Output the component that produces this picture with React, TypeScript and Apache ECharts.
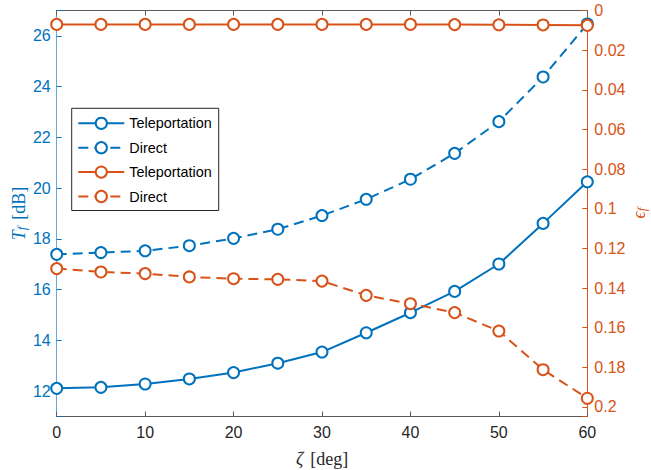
import React, { useEffect, useRef } from "react";
import * as echarts from "echarts";

// ---- data ----
const zeta = [0, 5, 10, 15, 20, 25, 30, 35, 40, 45, 50, 55, 60];
const teleportTf = [12.11, 12.15, 12.28, 12.48, 12.73, 13.1, 13.54, 14.3, 15.09, 15.93, 17.01, 18.61, 20.25];
const directTf = [17.39, 17.46, 17.53, 17.73, 18.02, 18.38, 18.92, 19.56, 20.35, 21.37, 22.62, 24.38, 26.47];
const teleportEps = [0.007, 0.007, 0.007, 0.007, 0.007, 0.007, 0.007, 0.007, 0.007, 0.0071, 0.0072, 0.0073, 0.0075];
const directEps = [0.1302, 0.1319, 0.1327, 0.1344, 0.1353, 0.1356, 0.1365, 0.1437, 0.1479, 0.1524, 0.1617, 0.1812, 0.1956];
const legendNames = ["Teleportation", "Direct", "Teleportation", "Direct"];

const BLUE = "#0072BD";
const ORANGE = "#D95319";
const AXIS_GRAY = "#5a5a5a";
const SANS = "'Liberation Sans', Arial, Helvetica, sans-serif";
const SERIF = "'Liberation Serif', 'Times New Roman', serif";

const pairs = (ys: number[]) => zeta.map((x, i) => [x, ys[i]]);

export default function App() {
  const ref = useRef<HTMLDivElement>(null);
  useEffect(() => {
    if (!ref.current) return;
    const chart = echarts.init(ref.current, undefined, { renderer: "svg" });
    const mkSeries = (key: string, name: string, data: number[], color: string, dashed: boolean, yAxisIndex: number) => ({
      type: "line",
      name: key + " " + name,
      data: pairs(data),
      xAxisIndex: 0,
      yAxisIndex,
      symbol: "emptyCircle",
      symbolSize: 11,
      showAllSymbol: true,
      color,
      lineStyle: { color, width: 2, type: dashed ? [10, 6] : "solid" },
      itemStyle: { color, borderColor: color, borderWidth: 1.8 },
      emphasis: { disabled: true },
      z: 3,
    });
    const option: any = {
      animation: false,
      backgroundColor: "#ffffff",
      grid: { left: 56.7, top: 10.5, width: 530.6, height: 406, containLabel: false },
      legend: {
        left: 71.7,
        top: 108.3,
        orient: "vertical",
        selectedMode: false,
        backgroundColor: "#ffffff",
        borderColor: "#262626",
        borderWidth: 1,
        padding: [8, 7, 7, 5.6],
        itemWidth: 46,
        itemHeight: 14,
        itemGap: 10.4,
        textStyle: { fontFamily: SANS, fontSize: 14.4, color: "#000" },
        formatter: (n: string) => n.replace(/^\w+ /, ""),
        data: ["T " + legendNames[0], "T " + legendNames[1], "E " + legendNames[2], "E " + legendNames[3]],
      },
      xAxis: [
        {
          type: "value",
          position: "bottom",
          min: 0,
          max: 60,
          interval: 10,
          axisLine: { onZero: false, lineStyle: { color: AXIS_GRAY, width: 1 } },
          axisTick: { inside: true, length: 5, lineStyle: { color: AXIS_GRAY } },
          axisLabel: { margin: 8, fontFamily: SANS, fontSize: 16, color: "#262626" },
          splitLine: { show: false },
        },
        {
          type: "value",
          position: "top",
          min: 0,
          max: 60,
          interval: 10,
          axisLine: { onZero: false, lineStyle: { color: AXIS_GRAY, width: 1 } },
          axisTick: { inside: true, length: 5, lineStyle: { color: AXIS_GRAY } },
          axisLabel: { show: false },
          splitLine: { show: false },
        },
      ],
      yAxis: [
        {
          type: "value",
          position: "left",
          min: 11,
          max: 27,
          minInterval: 2,
          maxInterval: 2,
          axisLine: { show: true, onZero: false, lineStyle: { color: BLUE, width: 1, opacity: 0.6 } },
          axisTick: { show: true, inside: true, length: 5, lineStyle: { color: BLUE } },
          axisLabel: {
            margin: 6,
            fontFamily: SANS,
            fontSize: 16,
            color: BLUE,
            formatter: (v: number) => (Math.abs(v % 2) < 1e-6 ? String(v) : ""),
          },
          splitLine: { show: false },
        },
        {
          type: "value",
          position: "right",
          inverse: true,
          min: 0,
          max: 0.2048,
          interval: 0.02,
          axisLine: { show: true, onZero: false, lineStyle: { color: ORANGE, width: 1 } },
          axisTick: { show: true, inside: true, length: 5, lineStyle: { color: ORANGE } },
          axisLabel: {
            margin: 7,
            fontFamily: SANS,
            fontSize: 16,
            color: ORANGE,
            formatter: (v: number) => {
              const k = v / 0.02;
              if (Math.abs(k - Math.round(k)) > 1e-6) return "";
              return String(+v.toFixed(2));
            },
          },
          splitLine: { show: false },
        },
      ],
      graphic: [
        {
          type: "text",
          x: 19,
          y: 213.5,
          rotation: Math.PI / 2,
          style: {
            text: "{i|T}{s|f}{r|[dB]}",
            align: "center",
            verticalAlign: "middle",
            fill: BLUE,
            rich: {
              i: { fontFamily: SERIF, fontStyle: "italic", fontSize: 18, fill: BLUE, lineHeight: 18 },
              s: { fontFamily: SERIF, fontStyle: "italic", fontSize: 13, fill: BLUE, lineHeight: 13, verticalAlign: "bottom" },
              r: { fontFamily: SERIF, fontSize: 18, fill: BLUE, lineHeight: 18, padding: [0, 0, 0, 7] },
            },
          },
        },
        {
          type: "text",
          x: 639,
          y: 213,
          rotation: Math.PI / 2,
          style: {
            text: "{i|ϵ}{s|f}",
            align: "center",
            verticalAlign: "middle",
            fill: ORANGE,
            rich: {
              i: { fontFamily: SERIF, fontStyle: "italic", fontSize: 18, fill: ORANGE, lineHeight: 18 },
              s: { fontFamily: SERIF, fontStyle: "italic", fontSize: 13, fill: ORANGE, lineHeight: 13, verticalAlign: "bottom" },
            },
          },
        },
        {
          type: "text",
          x: 322,
          y: 459,
          style: {
            text: "{i|ζ}{r|[deg]}",
            align: "center",
            verticalAlign: "middle",
            fill: "#262626",
            rich: {
              i: { fontFamily: SERIF, fontStyle: "italic", fontSize: 18, fill: "#262626" },
              r: { fontFamily: SERIF, fontSize: 18, fill: "#262626", padding: [0, 0, 0, 7] },
            },
          },
        },
      ],
      series: [
        mkSeries("T", legendNames[0], teleportTf, BLUE, false, 0),
        mkSeries("T", legendNames[1], directTf, BLUE, true, 0),
        mkSeries("E", legendNames[2], teleportEps, ORANGE, false, 1),
        mkSeries("E", legendNames[3], directEps, ORANGE, true, 1),
      ],
    };
    chart.setOption(option);
    return () => chart.dispose();
  }, []);
  return (
    <div
      ref={ref}
      style={{ position: "absolute", left: 0, top: 0, width: 651, height: 470, background: "#fff" }}
    />
  );
}
